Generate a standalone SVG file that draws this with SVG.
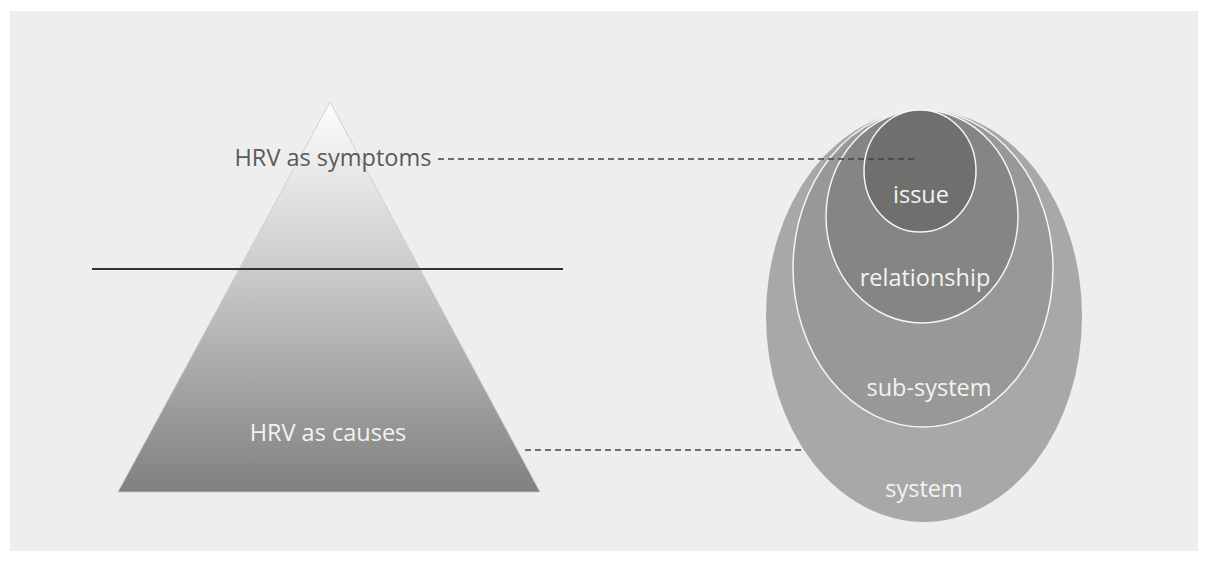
<svg xmlns="http://www.w3.org/2000/svg" width="1208" height="561" viewBox="0 0 1208 561">
  <style>
    .lbl { font-family: "Open Sans", "Liberation Sans", sans-serif; font-size: 23.5px; }
    .light { fill: #f3f3f3; }
    .ring { stroke: #f4f4f4; stroke-width: 1.5; }
    .dash { stroke: #444; stroke-width: 1.3; stroke-dasharray: 6 4; fill: none; }
  </style>
  <defs>
    <linearGradient id="tri" x1="0" y1="102" x2="0" y2="492" gradientUnits="userSpaceOnUse">
      <stop offset="0" stop-color="#fdfdfd"/>
      <stop offset="0.4" stop-color="#cfcfcf"/>
      <stop offset="1" stop-color="#808080"/>
    </linearGradient>
  </defs>
  <rect x="0" y="0" width="1208" height="561" fill="#ffffff"/>
  <rect x="10" y="11" width="1188" height="540" fill="#eeeeee"/>

  <g id="pyramid">
    <polygon points="330,102 540,492 118,492" fill="url(#tri)" stroke="#c9c9c9" stroke-width="0.8"/>
    <text class="lbl light" x="328" y="441" text-anchor="middle">HRV as causes</text>
  </g>
  <g id="waterline">
    <line x1="92" y1="269" x2="563" y2="269" stroke="#333" stroke-width="2"/>
  </g>
  <g id="symptoms">
    <text class="lbl" x="333" y="166" text-anchor="middle" fill="#5a5a5a">HRV as symptoms</text>
  </g>

  <g id="system">
    <ellipse cx="924" cy="316" rx="158" ry="206" fill="#a8a8a8"/>
    <text class="lbl light" x="924" y="497" text-anchor="middle">system</text>
  </g>
  <g id="sub-system">
    <ellipse class="ring" cx="923" cy="268.5" rx="130" ry="158.5" fill="#989898"/>
    <text class="lbl light" x="929" y="396" text-anchor="middle">sub-system</text>
  </g>
  <g id="relationship">
    <ellipse class="ring" cx="922" cy="216.5" rx="96" ry="106.5" fill="#858585"/>
    <text class="lbl light" x="925" y="286" text-anchor="middle">relationship</text>
  </g>
  <g id="issue">
    <ellipse class="ring" cx="920" cy="171" rx="56" ry="61" fill="#6f6f6e"/>
    <text class="lbl light" x="921" y="203" text-anchor="middle">issue</text>
  </g>

  <g id="connectors">
    <line class="dash" x1="438" y1="159" x2="915" y2="159"/>
    <line class="dash" x1="525" y1="450" x2="804" y2="450"/>
  </g>
</svg>
